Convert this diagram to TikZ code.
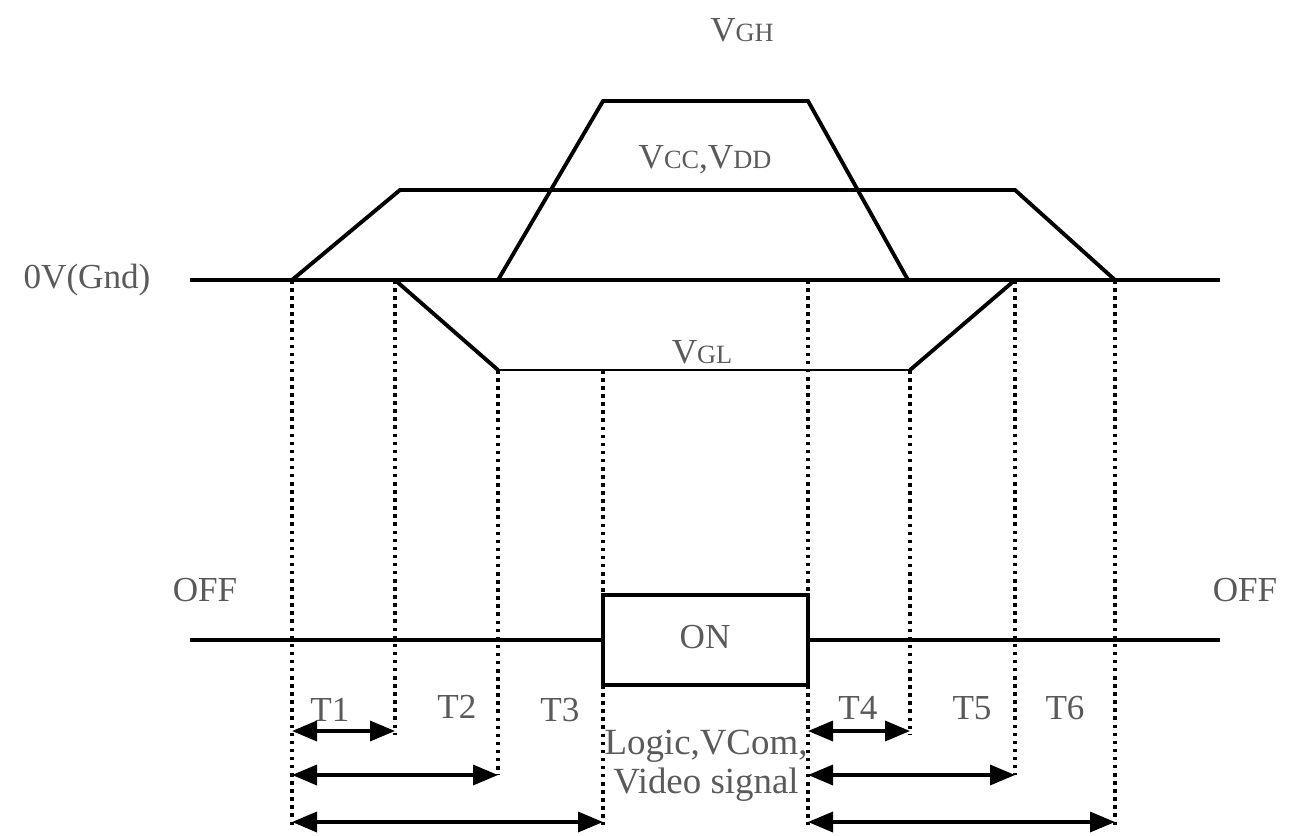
\documentclass[tikz,border=0pt]{standalone}
\usepackage{fontspec}
\setmainfont{Liberation Serif}
\usepackage{xcolor}
\definecolor{lblGray}{RGB}{90, 90, 90}
\usepackage{tikz}
\usetikzlibrary{arrows.meta, positioning}

\newcommand{\railname}[2]{#1{\fontsize{15}{17}\selectfont #2}}

\begin{document}
\begin{tikzpicture}[
    x=0.02cm, y=-0.02cm,
    signalLine/.style={line width=2.2pt, line join=miter},
    thinLine/.style={line width=1.6pt},
    guideLine/.style={line width=2pt, dash pattern=on 2pt off 2.6pt},
    spanArrow/.style={
        {Triangle[length=0.5cm, width=0.4cm]}-{Triangle[length=0.5cm, width=0.4cm]},
        line width=2pt
    },
    lbl/.style={
        text=lblGray, inner sep=0pt,
        font=\fontsize{20}{24}\selectfont
    }
]
    \useasboundingbox (0,0) rectangle (1297,835);

    % Time marks
    \coordinate (t0) at (292,280);
    \coordinate (t1) at (395,280);
    \coordinate (t2) at (498,280);
    \coordinate (t3) at (603,370);
    \coordinate (t4) at (808,280);
    \coordinate (t5) at (910,280);
    \coordinate (t6) at (1015,280);
    \coordinate (t7) at (1115,280);

    % Ground line
    \node[lbl] (gndLbl) at (87,280) {0V(Gnd)};
    \draw[signalLine] (190,280) -- (1220,280);

    % VCC, VDD rail
    \draw[signalLine] (t0) -- (400,190) -- (1015,190) -- (t7);
    \node[lbl] (vccLbl) at (705,160) {\railname{V}{CC},\railname{V}{DD}};

    % VGH rail
    \draw[signalLine] (t2) -- (603,101) -- (808,101) -- (908,280);
    \node[lbl] (vghLbl) at (742,30) {\railname{V}{GH}};

    % VGL rail
    \draw[signalLine] (t1) -- (498,370);
    \draw[thinLine] (498,370) -- (910,370);
    \draw[signalLine] (910,370) -- (t6);
    \node[lbl] (vglLbl) at (702,352) {\railname{V}{GL}};

    % Logic / VCom / video state
    \draw[signalLine] (190,640) -- (603,640);
    \draw[signalLine] (808,640) -- (1220,640);
    \node[draw, line width=2.2pt, minimum width=4.1cm, minimum height=1.8cm,
          inner sep=0pt] (onBox) at (705.5,640) {};
    \node[lbl] (onLbl) at (705,637) {ON};
    \node[lbl] (offLeft) at (205,590) {OFF};
    \node[lbl] (offRight) at (1245,590) {OFF};
    \node[lbl, align=center, font=\fontsize{21}{24}\selectfont] (sigLbl) at (706,766)
        {Logic,VCom,\\[-2pt]Video signal};

    % Guides
    \draw[guideLine] (t0) -- (292,825);
    \draw[guideLine] (t1) -- (395,735);
    \draw[guideLine] (498,370) -- (498,775);
    \draw[guideLine] (t3) -- (603,595);
    \draw[guideLine] (603,685) -- (603,825);
    \draw[guideLine] (t4) -- (808,595);
    \draw[guideLine] (808,685) -- (808,825);
    \draw[guideLine] (910,370) -- (910,735);
    \draw[guideLine] (t6) -- (1015,775);
    \draw[guideLine] (t7) -- (1115,825);

    % Interval labels
    \node[lbl] (T1) at (330,710) {T1};
    \node[lbl] (T2) at (457,707) {T2};
    \node[lbl] (T3) at (560,710) {T3};
    \node[lbl] (T4) at (858,708) {T4};
    \node[lbl] (T5) at (972,708) {T5};
    \node[lbl] (T6) at (1065,708) {T6};

    % Interval arrows
    \draw[spanArrow] (292,731) -- (395,731);
    \draw[spanArrow] (292,775) -- (498,775);
    \draw[spanArrow] (292,822) -- (603,822);
    \draw[spanArrow] (808,731) -- (910,731);
    \draw[spanArrow] (808,775) -- (1015,775);
    \draw[spanArrow] (808,822) -- (1115,822);

\end{tikzpicture}
\end{document}
